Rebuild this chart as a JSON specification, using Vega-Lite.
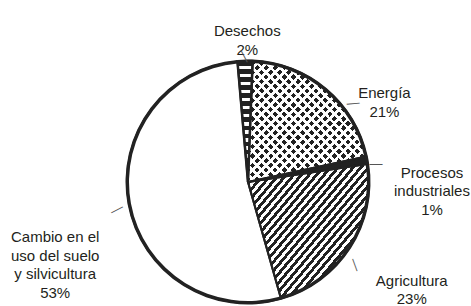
{
  "$schema": "https://vega.github.io/schema/vega-lite/v6.json",
  "width": 440,
  "height": 240,
  "autosize": {"type": "none"},
  "padding": {"left": 28, "top": 62, "right": 3, "bottom": 4},
  "background": "white",
  "config": {"view": {"stroke": null}},
  "data": {
    "values": [
      {"idx": 1, "sector": "Desechos", "value": 2, "label": "Desechos\n2%"},
      {"idx": 2, "sector": "Energía", "value": 21, "label": "Energía\n21%"},
      {"idx": 3, "sector": "Procesos industriales", "value": 1, "label": "Procesos\nindustriales\n1%"},
      {"idx": 4, "sector": "Agricultura", "value": 23, "label": "Agricultura\n23%"},
      {"idx": 5, "sector": "Cambio en el uso del suelo y silvicultura", "value": 53, "label": "Cambio en el\nuso del suelo\ny silvicultura\n53%"}
    ]
  },
  "encoding": {
    "theta": {"field": "value", "type": "quantitative", "stack": true, "scale": {"range": [-0.0873, 6.1959]}},
    "order": {"field": "idx", "type": "quantitative"}
  },
  "layer": [
    {
      "mark": {"type": "arc", "radius": 121, "strokeWidth": 0},
      "encoding": {
        "fill": {
          "condition": [
            {"test": "datum.sector === 'Desechos'", "value": {"gradient": "linear", "x1": 0, "y1": 0, "x2": 0, "y2": 1, "stops": [
              {"offset": 0, "color": "#222"}, {"offset": 0.038, "color": "#222"}, {"offset": 0.038, "color": "#fff"}, {"offset": 0.0667, "color": "#fff"},
              {"offset": 0.0667, "color": "#222"}, {"offset": 0.1047, "color": "#222"}, {"offset": 0.1047, "color": "#fff"}, {"offset": 0.1333, "color": "#fff"},
              {"offset": 0.1333, "color": "#222"}, {"offset": 0.1713, "color": "#222"}, {"offset": 0.1713, "color": "#fff"}, {"offset": 0.2, "color": "#fff"},
              {"offset": 0.2, "color": "#222"}, {"offset": 0.238, "color": "#222"}, {"offset": 0.238, "color": "#fff"}, {"offset": 0.2667, "color": "#fff"},
              {"offset": 0.2667, "color": "#222"}, {"offset": 0.3047, "color": "#222"}, {"offset": 0.3047, "color": "#fff"}, {"offset": 0.3333, "color": "#fff"},
              {"offset": 0.3333, "color": "#222"}, {"offset": 0.3713, "color": "#222"}, {"offset": 0.3713, "color": "#fff"}, {"offset": 0.4, "color": "#fff"},
              {"offset": 0.4, "color": "#222"}, {"offset": 0.438, "color": "#222"}, {"offset": 0.438, "color": "#fff"}, {"offset": 0.4667, "color": "#fff"},
              {"offset": 0.4667, "color": "#222"}, {"offset": 0.5047, "color": "#222"}, {"offset": 0.5047, "color": "#fff"}, {"offset": 0.5333, "color": "#fff"},
              {"offset": 0.5333, "color": "#222"}, {"offset": 0.5713, "color": "#222"}, {"offset": 0.5713, "color": "#fff"}, {"offset": 0.6, "color": "#fff"},
              {"offset": 0.6, "color": "#222"}, {"offset": 0.638, "color": "#222"}, {"offset": 0.638, "color": "#fff"}, {"offset": 0.6667, "color": "#fff"},
              {"offset": 0.6667, "color": "#222"}, {"offset": 0.7047, "color": "#222"}, {"offset": 0.7047, "color": "#fff"}, {"offset": 0.7333, "color": "#fff"},
              {"offset": 0.7333, "color": "#222"}, {"offset": 0.7713, "color": "#222"}, {"offset": 0.7713, "color": "#fff"}, {"offset": 0.8, "color": "#fff"},
              {"offset": 0.8, "color": "#222"}, {"offset": 0.838, "color": "#222"}, {"offset": 0.838, "color": "#fff"}, {"offset": 0.8667, "color": "#fff"},
              {"offset": 0.8667, "color": "#222"}, {"offset": 0.9047, "color": "#222"}, {"offset": 0.9047, "color": "#fff"}, {"offset": 0.9333, "color": "#fff"},
              {"offset": 0.9333, "color": "#222"}, {"offset": 1, "color": "#222"}
            ]}},
            {"test": "datum.sector === 'Energía' || datum.sector === 'Procesos industriales'", "value": "#222"},
            {"test": "datum.sector === 'Agricultura'", "value": {"gradient": "linear", "x1": 0, "y1": 0, "x2": 1, "y2": 0.94, "stops": [
              {"offset": 0, "color": "#222"}, {"offset": 0.0167, "color": "#222"}, {"offset": 0.0167, "color": "#fff"}, {"offset": 0.0333, "color": "#fff"},
              {"offset": 0.0333, "color": "#222"}, {"offset": 0.05, "color": "#222"}, {"offset": 0.05, "color": "#fff"}, {"offset": 0.0667, "color": "#fff"},
              {"offset": 0.0667, "color": "#222"}, {"offset": 0.0833, "color": "#222"}, {"offset": 0.0833, "color": "#fff"}, {"offset": 0.1, "color": "#fff"},
              {"offset": 0.1, "color": "#222"}, {"offset": 0.1167, "color": "#222"}, {"offset": 0.1167, "color": "#fff"}, {"offset": 0.1333, "color": "#fff"},
              {"offset": 0.1333, "color": "#222"}, {"offset": 0.15, "color": "#222"}, {"offset": 0.15, "color": "#fff"}, {"offset": 0.1667, "color": "#fff"},
              {"offset": 0.1667, "color": "#222"}, {"offset": 0.1833, "color": "#222"}, {"offset": 0.1833, "color": "#fff"}, {"offset": 0.2, "color": "#fff"},
              {"offset": 0.2, "color": "#222"}, {"offset": 0.2167, "color": "#222"}, {"offset": 0.2167, "color": "#fff"}, {"offset": 0.2333, "color": "#fff"},
              {"offset": 0.2333, "color": "#222"}, {"offset": 0.25, "color": "#222"}, {"offset": 0.25, "color": "#fff"}, {"offset": 0.2667, "color": "#fff"},
              {"offset": 0.2667, "color": "#222"}, {"offset": 0.2833, "color": "#222"}, {"offset": 0.2833, "color": "#fff"}, {"offset": 0.3, "color": "#fff"},
              {"offset": 0.3, "color": "#222"}, {"offset": 0.3167, "color": "#222"}, {"offset": 0.3167, "color": "#fff"}, {"offset": 0.3333, "color": "#fff"},
              {"offset": 0.3333, "color": "#222"}, {"offset": 0.35, "color": "#222"}, {"offset": 0.35, "color": "#fff"}, {"offset": 0.3667, "color": "#fff"},
              {"offset": 0.3667, "color": "#222"}, {"offset": 0.3833, "color": "#222"}, {"offset": 0.3833, "color": "#fff"}, {"offset": 0.4, "color": "#fff"},
              {"offset": 0.4, "color": "#222"}, {"offset": 0.4167, "color": "#222"}, {"offset": 0.4167, "color": "#fff"}, {"offset": 0.4333, "color": "#fff"},
              {"offset": 0.4333, "color": "#222"}, {"offset": 0.45, "color": "#222"}, {"offset": 0.45, "color": "#fff"}, {"offset": 0.4667, "color": "#fff"},
              {"offset": 0.4667, "color": "#222"}, {"offset": 0.4833, "color": "#222"}, {"offset": 0.4833, "color": "#fff"}, {"offset": 0.5, "color": "#fff"},
              {"offset": 0.5, "color": "#222"}, {"offset": 0.5167, "color": "#222"}, {"offset": 0.5167, "color": "#fff"}, {"offset": 0.5333, "color": "#fff"},
              {"offset": 0.5333, "color": "#222"}, {"offset": 0.55, "color": "#222"}, {"offset": 0.55, "color": "#fff"}, {"offset": 0.5667, "color": "#fff"},
              {"offset": 0.5667, "color": "#222"}, {"offset": 0.5833, "color": "#222"}, {"offset": 0.5833, "color": "#fff"}, {"offset": 0.6, "color": "#fff"},
              {"offset": 0.6, "color": "#222"}, {"offset": 0.6167, "color": "#222"}, {"offset": 0.6167, "color": "#fff"}, {"offset": 0.6333, "color": "#fff"},
              {"offset": 0.6333, "color": "#222"}, {"offset": 0.65, "color": "#222"}, {"offset": 0.65, "color": "#fff"}, {"offset": 0.6667, "color": "#fff"},
              {"offset": 0.6667, "color": "#222"}, {"offset": 0.6833, "color": "#222"}, {"offset": 0.6833, "color": "#fff"}, {"offset": 0.7, "color": "#fff"},
              {"offset": 0.7, "color": "#222"}, {"offset": 0.7167, "color": "#222"}, {"offset": 0.7167, "color": "#fff"}, {"offset": 0.7333, "color": "#fff"},
              {"offset": 0.7333, "color": "#222"}, {"offset": 0.75, "color": "#222"}, {"offset": 0.75, "color": "#fff"}, {"offset": 0.7667, "color": "#fff"},
              {"offset": 0.7667, "color": "#222"}, {"offset": 0.7833, "color": "#222"}, {"offset": 0.7833, "color": "#fff"}, {"offset": 0.8, "color": "#fff"},
              {"offset": 0.8, "color": "#222"}, {"offset": 0.8167, "color": "#222"}, {"offset": 0.8167, "color": "#fff"}, {"offset": 0.8333, "color": "#fff"},
              {"offset": 0.8333, "color": "#222"}, {"offset": 0.85, "color": "#222"}, {"offset": 0.85, "color": "#fff"}, {"offset": 0.8667, "color": "#fff"},
              {"offset": 0.8667, "color": "#222"}, {"offset": 0.8833, "color": "#222"}, {"offset": 0.8833, "color": "#fff"}, {"offset": 0.9, "color": "#fff"},
              {"offset": 0.9, "color": "#222"}, {"offset": 0.9167, "color": "#222"}, {"offset": 0.9167, "color": "#fff"}, {"offset": 0.9333, "color": "#fff"},
              {"offset": 0.9333, "color": "#222"}, {"offset": 0.95, "color": "#222"}, {"offset": 0.95, "color": "#fff"}, {"offset": 0.9667, "color": "#fff"},
              {"offset": 0.9667, "color": "#222"}, {"offset": 0.9833, "color": "#222"}, {"offset": 0.9833, "color": "#fff"}, {"offset": 1, "color": "#fff"}
            ]}}
          ],
          "value": "#ffffff"
        }
      }
    },
    {
      "mark": {"type": "arc", "radius": 121, "strokeWidth": 0},
      "encoding": {
        "fill": {
          "condition": {"test": "datum.sector === 'Energía'", "value": {"gradient": "linear", "x1": 0, "y1": 0, "x2": 1, "y2": 1, "stops": [
            {"offset": 0, "color": "#fff"}, {"offset": 0.0162, "color": "#fff"}, {"offset": 0.0162, "color": "rgba(255,255,255,0)"}, {"offset": 0.0385, "color": "rgba(255,255,255,0)"},
            {"offset": 0.0385, "color": "#fff"}, {"offset": 0.0547, "color": "#fff"}, {"offset": 0.0547, "color": "rgba(255,255,255,0)"}, {"offset": 0.0769, "color": "rgba(255,255,255,0)"},
            {"offset": 0.0769, "color": "#fff"}, {"offset": 0.0931, "color": "#fff"}, {"offset": 0.0931, "color": "rgba(255,255,255,0)"}, {"offset": 0.1154, "color": "rgba(255,255,255,0)"},
            {"offset": 0.1154, "color": "#fff"}, {"offset": 0.1316, "color": "#fff"}, {"offset": 0.1316, "color": "rgba(255,255,255,0)"}, {"offset": 0.1538, "color": "rgba(255,255,255,0)"},
            {"offset": 0.1538, "color": "#fff"}, {"offset": 0.17, "color": "#fff"}, {"offset": 0.17, "color": "rgba(255,255,255,0)"}, {"offset": 0.1923, "color": "rgba(255,255,255,0)"},
            {"offset": 0.1923, "color": "#fff"}, {"offset": 0.2085, "color": "#fff"}, {"offset": 0.2085, "color": "rgba(255,255,255,0)"}, {"offset": 0.2308, "color": "rgba(255,255,255,0)"},
            {"offset": 0.2308, "color": "#fff"}, {"offset": 0.247, "color": "#fff"}, {"offset": 0.247, "color": "rgba(255,255,255,0)"}, {"offset": 0.2692, "color": "rgba(255,255,255,0)"},
            {"offset": 0.2692, "color": "#fff"}, {"offset": 0.2854, "color": "#fff"}, {"offset": 0.2854, "color": "rgba(255,255,255,0)"}, {"offset": 0.3077, "color": "rgba(255,255,255,0)"},
            {"offset": 0.3077, "color": "#fff"}, {"offset": 0.3239, "color": "#fff"}, {"offset": 0.3239, "color": "rgba(255,255,255,0)"}, {"offset": 0.3462, "color": "rgba(255,255,255,0)"},
            {"offset": 0.3462, "color": "#fff"}, {"offset": 0.3624, "color": "#fff"}, {"offset": 0.3624, "color": "rgba(255,255,255,0)"}, {"offset": 0.3846, "color": "rgba(255,255,255,0)"},
            {"offset": 0.3846, "color": "#fff"}, {"offset": 0.4008, "color": "#fff"}, {"offset": 0.4008, "color": "rgba(255,255,255,0)"}, {"offset": 0.4231, "color": "rgba(255,255,255,0)"},
            {"offset": 0.4231, "color": "#fff"}, {"offset": 0.4393, "color": "#fff"}, {"offset": 0.4393, "color": "rgba(255,255,255,0)"}, {"offset": 0.4615, "color": "rgba(255,255,255,0)"},
            {"offset": 0.4615, "color": "#fff"}, {"offset": 0.4777, "color": "#fff"}, {"offset": 0.4777, "color": "rgba(255,255,255,0)"}, {"offset": 0.5, "color": "rgba(255,255,255,0)"},
            {"offset": 0.5, "color": "#fff"}, {"offset": 0.5162, "color": "#fff"}, {"offset": 0.5162, "color": "rgba(255,255,255,0)"}, {"offset": 0.5385, "color": "rgba(255,255,255,0)"},
            {"offset": 0.5385, "color": "#fff"}, {"offset": 0.5547, "color": "#fff"}, {"offset": 0.5547, "color": "rgba(255,255,255,0)"}, {"offset": 0.5769, "color": "rgba(255,255,255,0)"},
            {"offset": 0.5769, "color": "#fff"}, {"offset": 0.5931, "color": "#fff"}, {"offset": 0.5931, "color": "rgba(255,255,255,0)"}, {"offset": 0.6154, "color": "rgba(255,255,255,0)"},
            {"offset": 0.6154, "color": "#fff"}, {"offset": 0.6316, "color": "#fff"}, {"offset": 0.6316, "color": "rgba(255,255,255,0)"}, {"offset": 0.6538, "color": "rgba(255,255,255,0)"},
            {"offset": 0.6538, "color": "#fff"}, {"offset": 0.67, "color": "#fff"}, {"offset": 0.67, "color": "rgba(255,255,255,0)"}, {"offset": 0.6923, "color": "rgba(255,255,255,0)"},
            {"offset": 0.6923, "color": "#fff"}, {"offset": 0.7085, "color": "#fff"}, {"offset": 0.7085, "color": "rgba(255,255,255,0)"}, {"offset": 0.7308, "color": "rgba(255,255,255,0)"},
            {"offset": 0.7308, "color": "#fff"}, {"offset": 0.747, "color": "#fff"}, {"offset": 0.747, "color": "rgba(255,255,255,0)"}, {"offset": 0.7692, "color": "rgba(255,255,255,0)"},
            {"offset": 0.7692, "color": "#fff"}, {"offset": 0.7854, "color": "#fff"}, {"offset": 0.7854, "color": "rgba(255,255,255,0)"}, {"offset": 0.8077, "color": "rgba(255,255,255,0)"},
            {"offset": 0.8077, "color": "#fff"}, {"offset": 0.8239, "color": "#fff"}, {"offset": 0.8239, "color": "rgba(255,255,255,0)"}, {"offset": 0.8462, "color": "rgba(255,255,255,0)"},
            {"offset": 0.8462, "color": "#fff"}, {"offset": 0.8624, "color": "#fff"}, {"offset": 0.8624, "color": "rgba(255,255,255,0)"}, {"offset": 0.8846, "color": "rgba(255,255,255,0)"},
            {"offset": 0.8846, "color": "#fff"}, {"offset": 0.9008, "color": "#fff"}, {"offset": 0.9008, "color": "rgba(255,255,255,0)"}, {"offset": 0.9231, "color": "rgba(255,255,255,0)"},
            {"offset": 0.9231, "color": "#fff"}, {"offset": 0.9393, "color": "#fff"}, {"offset": 0.9393, "color": "rgba(255,255,255,0)"}, {"offset": 0.9615, "color": "rgba(255,255,255,0)"},
            {"offset": 0.9615, "color": "#fff"}, {"offset": 0.9777, "color": "#fff"}, {"offset": 0.9777, "color": "rgba(255,255,255,0)"}, {"offset": 1, "color": "rgba(255,255,255,0)"}
          ]}},
          "value": "rgba(255,255,255,0)"
        }
      }
    },
    {
      "mark": {"type": "arc", "radius": 121, "strokeWidth": 0},
      "encoding": {
        "fill": {
          "condition": {"test": "datum.sector === 'Energía'", "value": {"gradient": "linear", "x1": 1, "y1": 0, "x2": 0, "y2": 1, "stops": [
            {"offset": 0, "color": "#fff"}, {"offset": 0.0162, "color": "#fff"}, {"offset": 0.0162, "color": "rgba(255,255,255,0)"}, {"offset": 0.0385, "color": "rgba(255,255,255,0)"},
            {"offset": 0.0385, "color": "#fff"}, {"offset": 0.0547, "color": "#fff"}, {"offset": 0.0547, "color": "rgba(255,255,255,0)"}, {"offset": 0.0769, "color": "rgba(255,255,255,0)"},
            {"offset": 0.0769, "color": "#fff"}, {"offset": 0.0931, "color": "#fff"}, {"offset": 0.0931, "color": "rgba(255,255,255,0)"}, {"offset": 0.1154, "color": "rgba(255,255,255,0)"},
            {"offset": 0.1154, "color": "#fff"}, {"offset": 0.1316, "color": "#fff"}, {"offset": 0.1316, "color": "rgba(255,255,255,0)"}, {"offset": 0.1538, "color": "rgba(255,255,255,0)"},
            {"offset": 0.1538, "color": "#fff"}, {"offset": 0.17, "color": "#fff"}, {"offset": 0.17, "color": "rgba(255,255,255,0)"}, {"offset": 0.1923, "color": "rgba(255,255,255,0)"},
            {"offset": 0.1923, "color": "#fff"}, {"offset": 0.2085, "color": "#fff"}, {"offset": 0.2085, "color": "rgba(255,255,255,0)"}, {"offset": 0.2308, "color": "rgba(255,255,255,0)"},
            {"offset": 0.2308, "color": "#fff"}, {"offset": 0.247, "color": "#fff"}, {"offset": 0.247, "color": "rgba(255,255,255,0)"}, {"offset": 0.2692, "color": "rgba(255,255,255,0)"},
            {"offset": 0.2692, "color": "#fff"}, {"offset": 0.2854, "color": "#fff"}, {"offset": 0.2854, "color": "rgba(255,255,255,0)"}, {"offset": 0.3077, "color": "rgba(255,255,255,0)"},
            {"offset": 0.3077, "color": "#fff"}, {"offset": 0.3239, "color": "#fff"}, {"offset": 0.3239, "color": "rgba(255,255,255,0)"}, {"offset": 0.3462, "color": "rgba(255,255,255,0)"},
            {"offset": 0.3462, "color": "#fff"}, {"offset": 0.3624, "color": "#fff"}, {"offset": 0.3624, "color": "rgba(255,255,255,0)"}, {"offset": 0.3846, "color": "rgba(255,255,255,0)"},
            {"offset": 0.3846, "color": "#fff"}, {"offset": 0.4008, "color": "#fff"}, {"offset": 0.4008, "color": "rgba(255,255,255,0)"}, {"offset": 0.4231, "color": "rgba(255,255,255,0)"},
            {"offset": 0.4231, "color": "#fff"}, {"offset": 0.4393, "color": "#fff"}, {"offset": 0.4393, "color": "rgba(255,255,255,0)"}, {"offset": 0.4615, "color": "rgba(255,255,255,0)"},
            {"offset": 0.4615, "color": "#fff"}, {"offset": 0.4777, "color": "#fff"}, {"offset": 0.4777, "color": "rgba(255,255,255,0)"}, {"offset": 0.5, "color": "rgba(255,255,255,0)"},
            {"offset": 0.5, "color": "#fff"}, {"offset": 0.5162, "color": "#fff"}, {"offset": 0.5162, "color": "rgba(255,255,255,0)"}, {"offset": 0.5385, "color": "rgba(255,255,255,0)"},
            {"offset": 0.5385, "color": "#fff"}, {"offset": 0.5547, "color": "#fff"}, {"offset": 0.5547, "color": "rgba(255,255,255,0)"}, {"offset": 0.5769, "color": "rgba(255,255,255,0)"},
            {"offset": 0.5769, "color": "#fff"}, {"offset": 0.5931, "color": "#fff"}, {"offset": 0.5931, "color": "rgba(255,255,255,0)"}, {"offset": 0.6154, "color": "rgba(255,255,255,0)"},
            {"offset": 0.6154, "color": "#fff"}, {"offset": 0.6316, "color": "#fff"}, {"offset": 0.6316, "color": "rgba(255,255,255,0)"}, {"offset": 0.6538, "color": "rgba(255,255,255,0)"},
            {"offset": 0.6538, "color": "#fff"}, {"offset": 0.67, "color": "#fff"}, {"offset": 0.67, "color": "rgba(255,255,255,0)"}, {"offset": 0.6923, "color": "rgba(255,255,255,0)"},
            {"offset": 0.6923, "color": "#fff"}, {"offset": 0.7085, "color": "#fff"}, {"offset": 0.7085, "color": "rgba(255,255,255,0)"}, {"offset": 0.7308, "color": "rgba(255,255,255,0)"},
            {"offset": 0.7308, "color": "#fff"}, {"offset": 0.747, "color": "#fff"}, {"offset": 0.747, "color": "rgba(255,255,255,0)"}, {"offset": 0.7692, "color": "rgba(255,255,255,0)"},
            {"offset": 0.7692, "color": "#fff"}, {"offset": 0.7854, "color": "#fff"}, {"offset": 0.7854, "color": "rgba(255,255,255,0)"}, {"offset": 0.8077, "color": "rgba(255,255,255,0)"},
            {"offset": 0.8077, "color": "#fff"}, {"offset": 0.8239, "color": "#fff"}, {"offset": 0.8239, "color": "rgba(255,255,255,0)"}, {"offset": 0.8462, "color": "rgba(255,255,255,0)"},
            {"offset": 0.8462, "color": "#fff"}, {"offset": 0.8624, "color": "#fff"}, {"offset": 0.8624, "color": "rgba(255,255,255,0)"}, {"offset": 0.8846, "color": "rgba(255,255,255,0)"},
            {"offset": 0.8846, "color": "#fff"}, {"offset": 0.9008, "color": "#fff"}, {"offset": 0.9008, "color": "rgba(255,255,255,0)"}, {"offset": 0.9231, "color": "rgba(255,255,255,0)"},
            {"offset": 0.9231, "color": "#fff"}, {"offset": 0.9393, "color": "#fff"}, {"offset": 0.9393, "color": "rgba(255,255,255,0)"}, {"offset": 0.9615, "color": "rgba(255,255,255,0)"},
            {"offset": 0.9615, "color": "#fff"}, {"offset": 0.9777, "color": "#fff"}, {"offset": 0.9777, "color": "rgba(255,255,255,0)"}, {"offset": 1, "color": "rgba(255,255,255,0)"}
          ]}},
          "value": "rgba(255,255,255,0)"
        }
      }
    },
    {
      "mark": {"type": "arc", "radius": 121, "fill": null, "stroke": "#222"},
      "encoding": {
        "strokeWidth": {"condition": {"test": "datum.sector === 'Desechos'", "value": 2.5}, "value": 2}
      }
    },
    {
      "mark": {"type": "arc", "radius": 122.5, "radius2": 119, "fill": "#222", "strokeWidth": 0},
      "encoding": {}
    },
    {
      "mark": {
        "type": "text",
        "font": "Liberation Sans",
        "fontSize": 15,
        "lineHeight": 18.5,
        "lineBreak": "\n",
        "align": "center",
        "baseline": "middle",
        "fill": "#231f20",
        "radius": {"expr": "datum.sector === 'Desechos' ? 152 : datum.sector === 'Energía' ? 150 : datum.sector === 'Procesos industriales' ? 184 : datum.sector === 'Agricultura' ? 190 : 195"},
        "dx": {"expr": "datum.sector === 'Desechos' ? 3 : datum.sector === 'Energía' ? 40 : datum.sector === 'Procesos industriales' ? 3 : datum.sector === 'Agricultura' ? 4 : -1"},
        "dy": {"expr": "datum.sector === 'Desechos' ? 1 : datum.sector === 'Energía' ? 26 : datum.sector === 'Procesos industriales' ? 24 : datum.sector === 'Agricultura' ? -4 : 20"}
      },
      "encoding": {
        "text": {"field": "label", "type": "nominal"}
      }
    },
    {
      "mark": {
        "type": "text",
        "font": "Liberation Sans",
        "fontSize": 13,
        "align": "center",
        "baseline": "middle",
        "fill": "#555",
        "text": "—",
        "radius": {"expr": "datum.sector === 'Desechos' ? 126 : datum.sector === 'Energía' ? 131 : datum.sector === 'Procesos industriales' ? 129 : datum.sector === 'Agricultura' ? 135 : 134"},
        "angle": {"expr": "datum.sector === 'Desechos' ? 62 : datum.sector === 'Energía' ? -5 : datum.sector === 'Procesos industriales' ? 0 : datum.sector === 'Agricultura' ? 70 : -27"},
        "dx": {"expr": "datum.sector === 'Desechos' ? 0 : datum.sector === 'Energía' ? 19 : datum.sector === 'Procesos industriales' ? 1 : datum.sector === 'Agricultura' ? 7 : -1"},
        "dy": {"expr": "datum.sector === 'Desechos' ? 0 : datum.sector === 'Energía' ? 23 : datum.sector === 'Procesos industriales' ? 5 : datum.sector === 'Agricultura' ? 9 : 3"}
      },
      "encoding": {}
    }
  ]
}
